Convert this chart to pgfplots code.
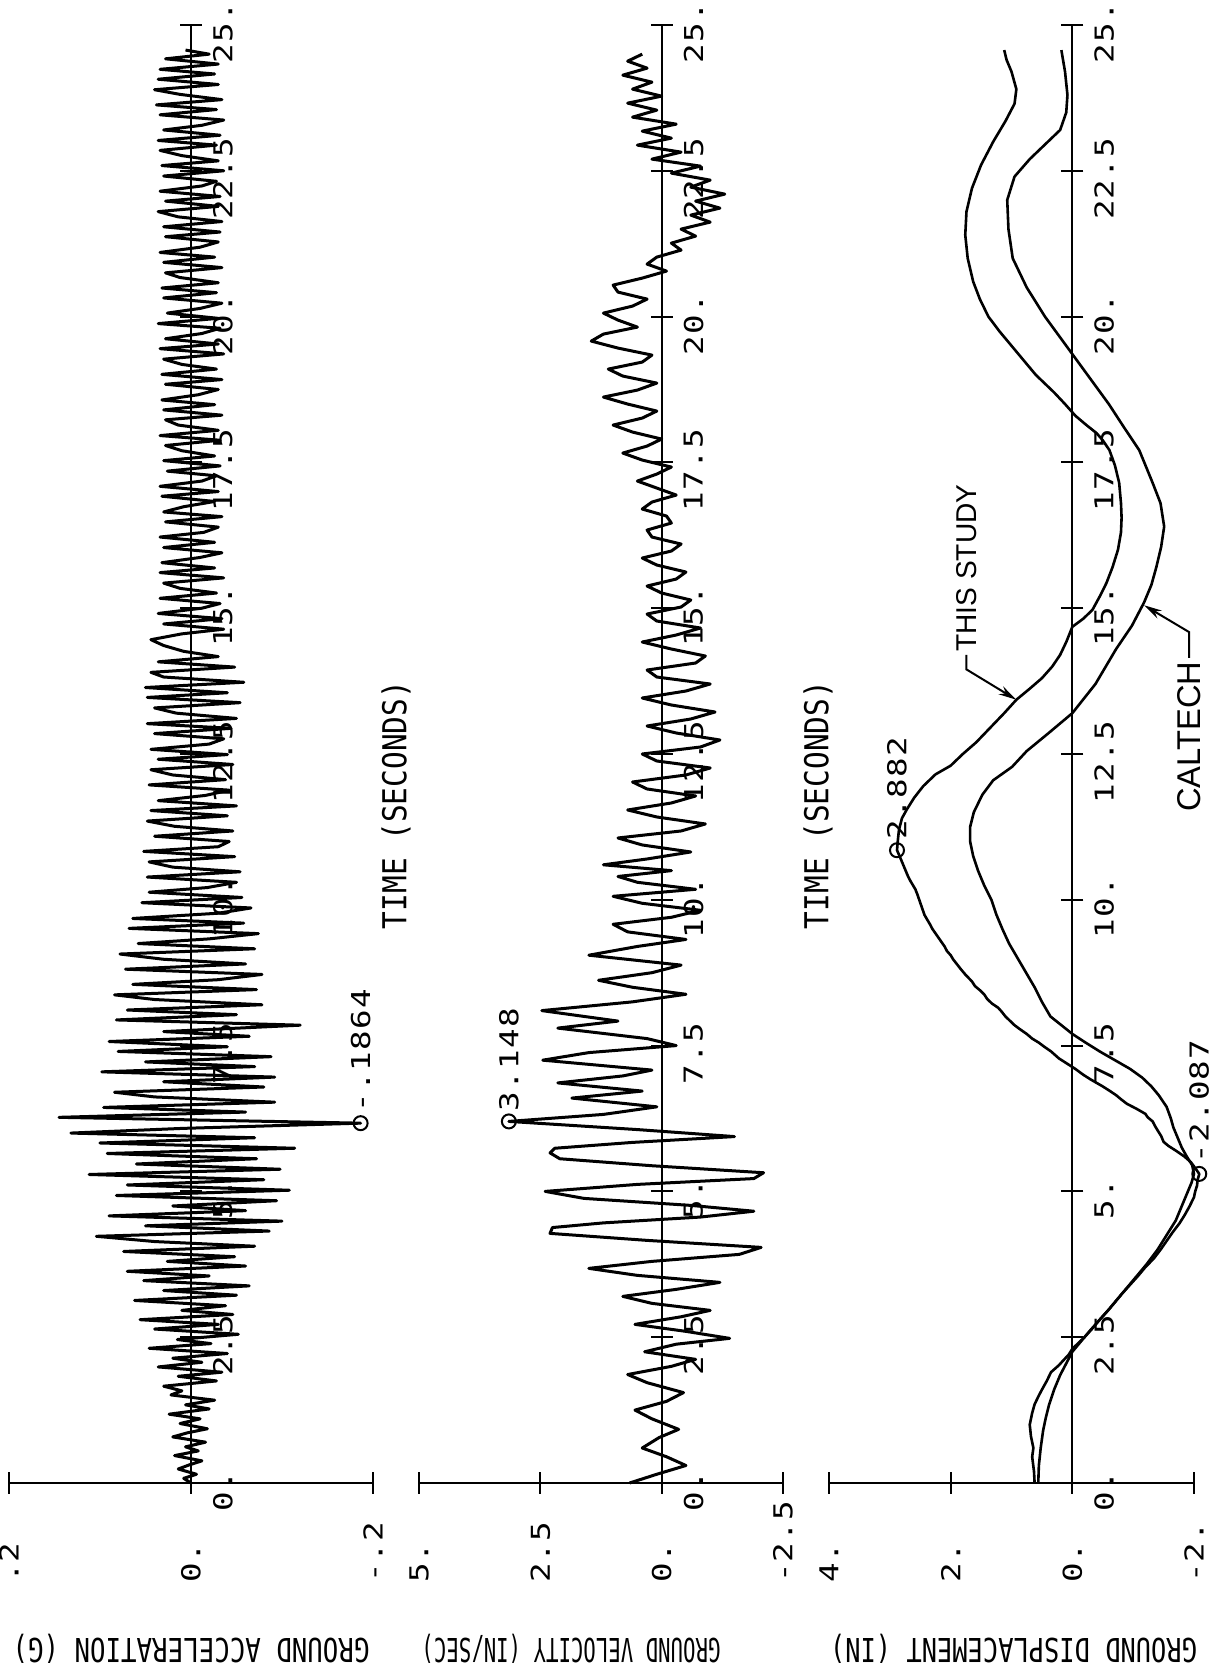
\documentclass[border=0pt]{standalone}
\usepackage{pgfplots}
\pgfplotsset{compat=1.18}
\usepackage{graphicx}
\usepackage{fontspec}
\usetikzlibrary{arrows.meta}
\newfontfamily\plotfont{DejaVu Sans Mono}
\newfontfamily\tickfam[FakeStretch=1.25, LetterSpace=5]{DejaVu Sans Mono}
\newfontfamily\notefont{Liberation Sans}
\newcommand\tickfont{\tickfam\fontsize{13pt}{15pt}\selectfont}

\pgfplotsset{
  seis/.style={
    scale only axis, width=182pt, height=729pt,
    x dir=reverse, ymin=0, ymax=25,
    axis lines=middle, axis line style={-, line width=1pt, black},
    hide obscured x ticks=false, hide obscured y ticks=false,
    tick align=center, major tick length=11pt,
    tick style={line width=1pt, black},
    minor tick num=0,
    ytick={0,2.5,5,7.5,10,12.5,15,17.5,20,22.5,25},
    yticklabels={0.,2.5,5.,7.5,10.,12.5,15.,17.5,20.,22.5,25.},
    tick label style={font=\tickfont},
    xticklabel style={yshift=-48pt, rotate=90, anchor=west},
    yticklabel style={xshift=13pt, yshift=-4pt, rotate=90, anchor=north},
    clip=false,
    trace/.style={line width=1.5pt, black, line join=round},
  }
}

\begin{document}
\begin{tikzpicture}

% ---------------- ground acceleration ----------------
\begin{axis}[seis, at={(4.5pt,94.5pt)}, anchor=south west,
  xmin=-0.2, xmax=0.2, xtick={-0.2,0,0.2}, xticklabels={-.2,0.,.2}]
\addplot[trace] coordinates {
(0.000,0.00) (0.008,0.08) (-0.006,0.15) (0.014,0.24) (0.002,0.31) (-0.012,0.38)
(0.018,0.47) (-0.008,0.55) (0.006,0.62) (-0.016,0.70) (0.020,0.79) (0.004,0.86)
(-0.018,0.93) (0.012,1.02) (-0.010,1.10) (0.024,1.18) (-0.020,1.27) (0.006,1.34)
(-0.026,1.42) (0.022,1.51) (0.010,1.58) (0.030,1.66) (-0.028,1.75) (0.014,1.83)
(-0.034,1.90) (0.036,1.99) (-0.012,2.07) (0.020,2.14) (-0.040,2.22) (0.046,2.31)
(-0.022,2.39) (0.015,2.46) (-0.052,2.55) (0.040,2.64) (-0.030,2.72) (0.056,2.80)
(-0.046,2.89) (0.010,2.96) (-0.038,3.04) (0.062,3.13) (-0.050,3.22) (0.030,3.30)
(-0.064,3.38) (0.052,3.47) (-0.020,3.55) (0.070,3.63) (-0.060,3.72) (0.026,3.80)
(-0.048,3.88) (0.074,3.97) (-0.070,4.06) (0.040,4.14) (0.104,4.23) (-0.086,4.32)
(0.050,4.41) (-0.100,4.49) (0.090,4.58) (-0.060,4.67) (0.020,4.75) (-0.094,4.84)
(0.082,4.93) (-0.108,5.02) (0.070,5.11) (-0.080,5.20) (0.112,5.29) (-0.098,5.38)
(0.060,5.47) (-0.072,5.56) (0.092,5.65) (-0.114,5.74) (0.100,5.83) (-0.070,5.92)
(0.132,6.00) (0.010,6.08) (-0.1864,6.17) (0.145,6.27) (-0.060,6.36) (0.096,6.44)
(-0.092,6.53) (0.040,6.62) (0.084,6.70) (-0.080,6.79) (0.030,6.88) (-0.092,6.96)
(0.098,7.05) (-0.070,7.14) (0.050,7.22) (-0.088,7.31) (0.080,7.40) (-0.040,7.48)
(0.090,7.57) (-0.064,7.66) (0.030,7.74) (-0.120,7.85) (0.082,7.94) (-0.050,8.03)
(0.070,8.11) (-0.078,8.20) (0.040,8.29) (0.084,8.37) (-0.072,8.46) (0.064,8.55)
(-0.030,8.63) (-0.078,8.72) (0.072,8.81) (-0.060,8.90) (0.030,8.98) (0.078,9.07)
(-0.070,9.16) (0.058,9.25) (-0.020,9.33) (-0.074,9.42) (0.068,9.51) (-0.058,9.60)
(0.064,9.68) (-0.030,9.77) (-0.066,9.86) (0.054,9.95) (-0.056,10.04) (0.046,10.13)
(-0.018,10.21) (-0.050,10.30) (0.048,10.39) (-0.054,10.48) (0.020,10.56) (0.046,10.65)
(-0.048,10.74) (0.052,10.83) (-0.030,10.91) (-0.042,11.00) (0.040,11.09) (-0.046,11.18)
(0.018,11.26) (0.048,11.35) (-0.040,11.44) (0.044,11.53) (-0.050,11.61) (0.036,11.70)
(-0.016,11.79) (-0.042,11.88) (0.046,11.97) (-0.038,12.06) (0.020,12.14) (0.044,12.23)
(-0.046,12.32) (0.036,12.41) (-0.040,12.49) (0.044,12.58) (-0.020,12.67) (-0.036,12.76)
(0.040,12.85) (-0.044,12.94) (0.048,13.02) (-0.050,13.11) (0.016,13.20) (0.040,13.29)
(-0.054,13.38) (0.048,13.47) (-0.040,13.55) (0.050,13.64) (-0.058,13.73) (0.030,13.82)
(0.044,13.90) (-0.048,13.99) (0.036,14.08) (-0.030,14.17) (0.008,14.26) (0.030,14.36)
(0.044,14.46) (0.010,14.56) (-0.036,14.64) (0.030,14.73) (-0.034,14.82) (0.036,14.91)
(-0.012,15.00) (-0.032,15.08) (0.034,15.17) (-0.028,15.26) (0.012,15.34) (0.030,15.43)
(-0.036,15.52) (0.034,15.61) (-0.026,15.69) (0.032,15.78) (-0.010,15.87) (-0.034,15.95)
(0.030,16.04) (-0.026,16.13) (0.034,16.22) (-0.014,16.30) (-0.030,16.39) (0.028,16.48)
(-0.034,16.57) (0.030,16.65) (0.008,16.74) (-0.026,16.83) (0.032,16.92) (-0.030,17.00)
(0.034,17.09) (-0.012,17.18) (-0.028,17.27) (0.026,17.35) (-0.032,17.44) (0.030,17.53)
(-0.026,17.61) (0.010,17.70) (0.028,17.79) (-0.032,17.88) (0.034,17.96) (-0.030,18.05)
(0.014,18.14) (0.028,18.23) (-0.034,18.31) (0.030,18.40) (-0.026,18.49) (0.032,18.57)
(-0.008,18.66) (-0.030,18.75) (0.028,18.84) (-0.034,18.92) (0.032,19.01) (-0.028,19.10)
(0.010,19.18) (0.030,19.27) (-0.036,19.36) (0.034,19.45) (-0.030,19.53) (0.028,19.62)
(-0.012,19.71) (-0.032,19.80) (0.036,19.88) (-0.030,19.97) (0.026,20.06) (-0.010,20.14)
(-0.034,20.23) (0.030,20.32) (-0.028,20.41) (0.032,20.49) (-0.030,20.58) (0.012,20.67)
(0.028,20.75) (-0.034,20.84) (0.030,20.93) (-0.026,21.02) (0.034,21.10) (-0.010,21.19)
(-0.030,21.28) (0.028,21.37) (-0.032,21.45) (0.030,21.54) (-0.034,21.63) (0.014,21.71)
(0.036,21.80) (-0.030,21.89) (0.028,21.98) (-0.032,22.06) (0.034,22.15) (-0.012,22.24)
(-0.028,22.32) (0.030,22.41) (-0.036,22.50) (0.032,22.59) (-0.030,22.67) (0.010,22.76)
(0.034,22.85) (-0.028,22.94) (0.036,23.02) (-0.032,23.11) (0.030,23.20) (-0.012,23.28)
(-0.036,23.37) (0.034,23.46) (-0.028,23.55) (0.038,23.63) (-0.034,23.72) (0.012,23.81)
(0.040,23.89) (-0.030,23.98) (0.036,24.07) (-0.026,24.16) (0.034,24.24) (-0.030,24.33)
(0.028,24.42) (-0.020,24.50) (0.006,24.57)
};
\addplot[only marks, mark=o, mark size=3.5pt, mark options={line width=1pt}] coordinates {(-0.1864,6.17)};
\node[font=\tickfont, yshift=4pt, rotate=90, anchor=west, inner sep=1pt] at (axis cs:-0.1864,6.17) {-.1864};
\end{axis}

% ---------------- ground velocity ----------------
\begin{axis}[seis, at={(209.5pt,94.5pt)}, anchor=south west,
  xmin=-2.5, xmax=5, xtick={-2.5,0,2.5,5}, xticklabels={-2.5,0.,2.5,5.}]
\addplot[trace] coordinates {
(0.66,0.00) (0.10,0.15) (-0.50,0.30) (-0.10,0.45) (0.40,0.60) (0.05,0.78) (-0.35,0.92)
(0.20,1.10) (0.55,1.25) (-0.10,1.40) (-0.45,1.55) (0.30,1.72) (0.70,1.86) (-0.20,2.00)
(-0.70,2.12) (0.35,2.25) (-0.30,2.38) (-1.40,2.48) (-0.50,2.60) (0.55,2.72) (-0.40,2.85)
(-1.00,2.96) (0.20,3.08) (0.80,3.20) (-0.30,3.32) (-1.20,3.44) (0.50,3.56) (1.50,3.68)
(0.20,3.80) (-1.60,3.92) (-2.05,4.04) (0.30,4.16) (2.30,4.28) (2.25,4.38) (1.20,4.46)
(-0.80,4.56) (-1.90,4.66) (-0.60,4.76) (1.60,4.88) (2.40,5.00) (0.50,5.12) (-1.90,5.22)
(-2.10,5.32) (0.20,5.44) (2.10,5.56) (2.30,5.66) (2.20,5.74) (0.60,5.84) (-1.50,5.94)
(0.50,6.06) (3.148,6.20) (1.20,6.32) (0.10,6.45) (1.85,6.60) (0.40,6.72) (2.14,6.86)
(0.80,6.98) (0.20,7.08) (2.45,7.25) (1.50,7.38) (-0.30,7.50) (0.30,7.62) (2.14,7.80)
(0.90,7.92) (2.47,8.10) (0.60,8.25) (-0.50,8.38) (0.60,8.50) (1.30,8.62) (0.20,8.75)
(-0.40,8.88) (1.50,9.05) (0.50,9.20) (-0.50,9.32) (0.70,9.45) (1.00,9.58) (-0.20,9.70)
(-0.80,9.82) (0.40,9.94) (1.00,10.06) (-0.70,10.18) (0.50,10.30) (0.90,10.40) (-0.20,10.50)
(1.20,10.60) (0.30,10.70) (-0.60,10.82) (0.40,10.94) (0.90,11.06) (-0.40,11.18)
(-0.90,11.30) (0.10,11.42) (0.70,11.54) (-0.20,11.66) (-0.70,11.78) (0.30,11.90) (0.60,12.02)
(-0.50,12.14) (-1.00,12.26) (0.10,12.38) (0.40,12.50) (-0.80,12.62) (-1.20,12.74) (-0.30,12.86)
(0.30,12.98) (-0.60,13.10) (-1.10,13.22) (-0.20,13.34) (0.40,13.46) (-0.50,13.58) (-1.00,13.70)
(0.10,13.82) (0.30,13.94) (-0.70,14.06) (-0.90,14.18) (-0.20,14.30) (0.40,14.42) (-0.30,14.54)
(-0.80,14.66) (0.10,14.78) (0.30,14.90) (-0.40,15.02) (-0.60,15.14) (0.00,15.26) (0.30,15.38)
(-0.30,15.50) (-0.50,15.62) (0.10,15.74) (0.40,15.86) (-0.20,15.98) (-0.40,16.10) (0.20,16.22)
(0.30,16.34) (-0.20,16.46) (-0.10,16.58) (0.40,16.70) (0.20,16.82) (-0.30,16.94) (0.10,17.06)
(0.50,17.18) (0.10,17.30) (-0.20,17.42) (0.40,17.54) (0.80,17.66) (0.30,17.78) (0.00,17.90)
(0.60,18.02) (1.00,18.14) (0.40,18.26) (0.10,18.38) (0.70,18.50) (1.20,18.62) (0.50,18.74)
(0.10,18.86) (0.80,18.98) (1.10,19.10) (0.40,19.22) (0.20,19.34) (0.90,19.46) (1.45,19.58)
(1.20,19.70) (0.50,19.82) (0.90,19.94) (1.20,20.06) (0.60,20.18) (0.30,20.30) (0.90,20.42)
(1.00,20.54) (0.40,20.66) (-0.10,20.78) (0.30,20.90) (0.10,21.02) (-0.40,21.14) (-0.20,21.26)
(-0.70,21.38) (-0.40,21.50) (-1.00,21.62) (-0.60,21.74) (-1.20,21.86) (-0.70,21.98) (-1.30,22.10)
(-0.60,22.22) (-1.00,22.34) (-0.20,22.46) (-0.80,22.58) (0.20,22.70) (-0.40,22.82) (0.50,22.94)
(-0.20,23.06) (0.40,23.18) (-0.30,23.30) (0.60,23.42) (0.10,23.54) (0.70,23.66) (0.00,23.78)
(0.60,23.90) (0.20,24.02) (0.80,24.14) (0.30,24.26) (0.70,24.38) (0.40,24.50)
};
\addplot[only marks, mark=o, mark size=3.5pt, mark options={line width=1pt}] coordinates {(3.148,6.20)};
\node[font=\tickfont, yshift=4pt, rotate=90, anchor=west, inner sep=1pt] at (axis cs:3.148,6.20) {3.148};
\end{axis}

% ---------------- ground displacement ----------------
\begin{axis}[seis, at={(414.5pt,94.5pt)}, anchor=south west, width=182.5pt,
  xmin=-2, xmax=4, xtick={-2,0,2,4}, xticklabels={-2.,0.,2.,4.}]
% this study
\addplot[trace, line width=1.3pt] coordinates {
(0.62,0.0) (0.63,0.2) (0.66,0.45) (0.64,0.6) (0.68,0.8) (0.70,1.0) (0.66,1.2) (0.62,1.35)
(0.55,1.5) (0.50,1.6) (0.42,1.75) (0.35,1.9) (0.22,2.02) (0.15,2.1) (0.06,2.2) (0.00,2.3)
(-0.10,2.4) (-0.20,2.5) (-0.33,2.65) (-0.45,2.8) (-0.58,2.95) (-0.70,3.1) (-0.82,3.25)
(-0.95,3.4) (-1.08,3.55) (-1.20,3.7) (-1.34,3.85) (-1.45,4.0) (-1.55,4.15) (-1.65,4.3)
(-1.76,4.45) (-1.85,4.6) (-1.93,4.75) (-2.00,4.9) (-2.02,5.0) (-2.05,5.1) (-2.06,5.2)
(-2.087,5.3) (-2.02,5.4) (-1.95,5.5) (-1.84,5.6) (-1.70,5.7) (-1.58,5.78) (-1.50,5.85)
(-1.46,5.95) (-1.40,6.05) (-1.36,6.12) (-1.32,6.2) (-1.24,6.27) (-1.20,6.33) (-1.05,6.42)
(-0.90,6.5) (-0.80,6.58) (-0.72,6.65) (-0.62,6.72) (-0.50,6.8) (-0.30,6.92) (-0.18,7.0)
(-0.05,7.1) (0.10,7.2) (0.22,7.28) (0.35,7.4) (0.46,7.48) (0.55,7.55) (0.66,7.62)
(0.75,7.7) (0.86,7.78) (0.95,7.85) (1.04,7.94) (1.10,8.0) (1.16,8.08) (1.22,8.15)
(1.32,8.22) (1.40,8.3) (1.45,8.38) (1.52,8.45) (1.60,8.52) (1.65,8.6) (1.76,8.72)
(1.84,8.82) (1.90,8.9) (1.96,8.98) (2.00,9.05) (2.06,9.12) (2.10,9.2) (2.20,9.35)
(2.30,9.5) (2.34,9.58) (2.38,9.65) (2.43,9.74) (2.45,9.8) (2.50,9.95) (2.55,10.1)
(2.58,10.18) (2.62,10.25) (2.66,10.32) (2.70,10.4) (2.74,10.5) (2.80,10.65) (2.84,10.75)
(2.882,10.85) (2.87,11.0) (2.85,11.2) (2.80,11.4) (2.72,11.55) (2.60,11.75) (2.45,11.95)
(2.25,12.15) (2.00,12.3) (1.80,12.5) (1.58,12.7) (1.35,12.95) (1.12,13.2) (0.92,13.43)
(0.70,13.62) (0.50,13.8) (0.33,14.0) (0.20,14.2) (0.10,14.42) (0.00,14.68) (-0.18,14.82)
(-0.33,14.97) (-0.45,15.2) (-0.56,15.43) (-0.66,15.7) (-0.75,16.0) (-0.80,16.3)
(-0.81,16.55) (-0.80,16.8) (-0.77,17.15) (-0.70,17.45) (-0.61,17.71) (-0.50,17.88)
(-0.40,18.0) (-0.22,18.15) (-0.05,18.3) (0.12,18.5) (0.30,18.7) (0.45,18.85) (0.60,19.0)
(0.80,19.25) (1.00,19.5) (1.20,19.75) (1.38,20.0) (1.52,20.3) (1.63,20.6) (1.72,21.0)
(1.76,21.4) (1.74,21.8) (1.65,22.2) (1.50,22.6) (1.30,23.0) (1.10,23.35) (0.95,23.65)
(0.92,23.9) (1.00,24.2) (1.08,24.4) (1.12,24.57)
};
% caltech
\addplot[trace, line width=1.3pt] coordinates {
(0.56,0.0) (0.55,0.3) (0.52,0.6) (0.48,0.9) (0.44,1.1) (0.38,1.35) (0.30,1.6) (0.20,1.85)
(0.10,2.05) (0.00,2.25) (-0.12,2.4) (-0.28,2.6) (-0.45,2.8) (-0.62,3.0) (-0.82,3.25)
(-1.02,3.5) (-1.22,3.75) (-1.40,4.0) (-1.55,4.25) (-1.70,4.5) (-1.80,4.75) (-1.90,5.0)
(-1.96,5.15) (-2.00,5.3) (-1.97,5.45) (-1.88,5.6) (-1.80,5.75) (-1.72,5.95) (-1.66,6.1)
(-1.62,6.25) (-1.55,6.45) (-1.42,6.65) (-1.30,6.8) (-1.15,6.95) (-0.95,7.1) (-0.70,7.25)
(-0.45,7.4) (-0.22,7.55) (0.00,7.7) (0.18,7.85) (0.36,8.0) (0.50,8.25) (0.62,8.5)
(0.76,8.75) (0.90,9.0) (1.04,9.25) (1.15,9.5) (1.25,9.75) (1.33,10.0) (1.45,10.25)
(1.55,10.5) (1.63,10.75) (1.68,11.0) (1.68,11.25) (1.62,11.5) (1.48,11.8) (1.30,12.05)
(0.99,12.28) (0.75,12.55) (0.40,12.85) (0.00,13.2) (-0.38,13.7) (-0.72,14.3) (-0.98,14.7)
(-1.18,15.1) (-1.30,15.4) (-1.38,15.7) (-1.46,16.05) (-1.51,16.4) (-1.45,16.8) (-1.32,17.15)
(-1.10,17.71) (-0.85,18.1) (-0.60,18.5) (-0.25,19.0) (0.10,19.5) (0.45,20.0) (0.75,20.5)
(0.98,21.0) (1.05,21.5) (1.07,22.0) (0.95,22.4) (0.70,22.7) (0.40,23.0) (0.20,23.2)
(0.10,23.5) (0.08,23.8) (0.12,24.2) (0.18,24.57)
};
\addplot[only marks, mark=o, mark size=3.5pt, mark options={line width=1pt}] coordinates {(2.882,10.85) (-2.087,5.3)};
\node[font=\tickfont, yshift=4pt, rotate=90, anchor=west, inner sep=1pt] at (axis cs:2.882,10.85) {2.882};
\node[font=\tickfont, yshift=4pt, rotate=90, anchor=west, inner sep=1pt] at (axis cs:-2.087,5.3) {-2.087};
% curve labels
\node[rotate=90, anchor=west, inner sep=0pt] at (axis cs:1.74,14.25) {\resizebox{83.5pt}{10pt}{\notefont THIS STUDY}};
\draw[line width=1pt, -{Stealth[length=9pt,width=4.5pt]}] (axis cs:1.74,14.2) -- (axis cs:1.74,13.95) -- (axis cs:0.92,13.43);
\node[rotate=90, anchor=east, inner sep=0pt] at (axis cs:-1.92,14.09) {\resizebox{75pt}{11.5pt}{\notefont CALTECH}};
\draw[line width=1pt, -{Stealth[length=9pt,width=4.5pt]}] (axis cs:-1.92,14.15) -- (axis cs:-1.92,14.59) -- (axis cs:-1.18,15.05);
\end{axis}

% axis titles
\node[rotate=90] at (198pt,433.5pt) {\resizebox{124pt}{12.5pt}{\plotfont TIME (SECONDS)}};
\node[rotate=90] at (409pt,433.5pt) {\resizebox{124pt}{12.5pt}{\plotfont TIME (SECONDS)}};
\node[rotate=180] at (95.5pt,11.5pt) {\resizebox{178.5pt}{12.5pt}{\plotfont GROUND ACCELERATION (G)}};
\node[rotate=180] at (285.5pt,11.5pt) {\resizebox{149.5pt}{12.5pt}{\plotfont GROUND VELOCITY (IN/SEC)}};
\node[rotate=180] at (506.75pt,11.5pt) {\resizebox{183.5pt}{12.5pt}{\plotfont GROUND DISPLACEMENT (IN)}};

\pgfresetboundingbox
\path[use as bounding box] (0,0) rectangle (608.5pt,836pt);
\end{tikzpicture}
\end{document}
